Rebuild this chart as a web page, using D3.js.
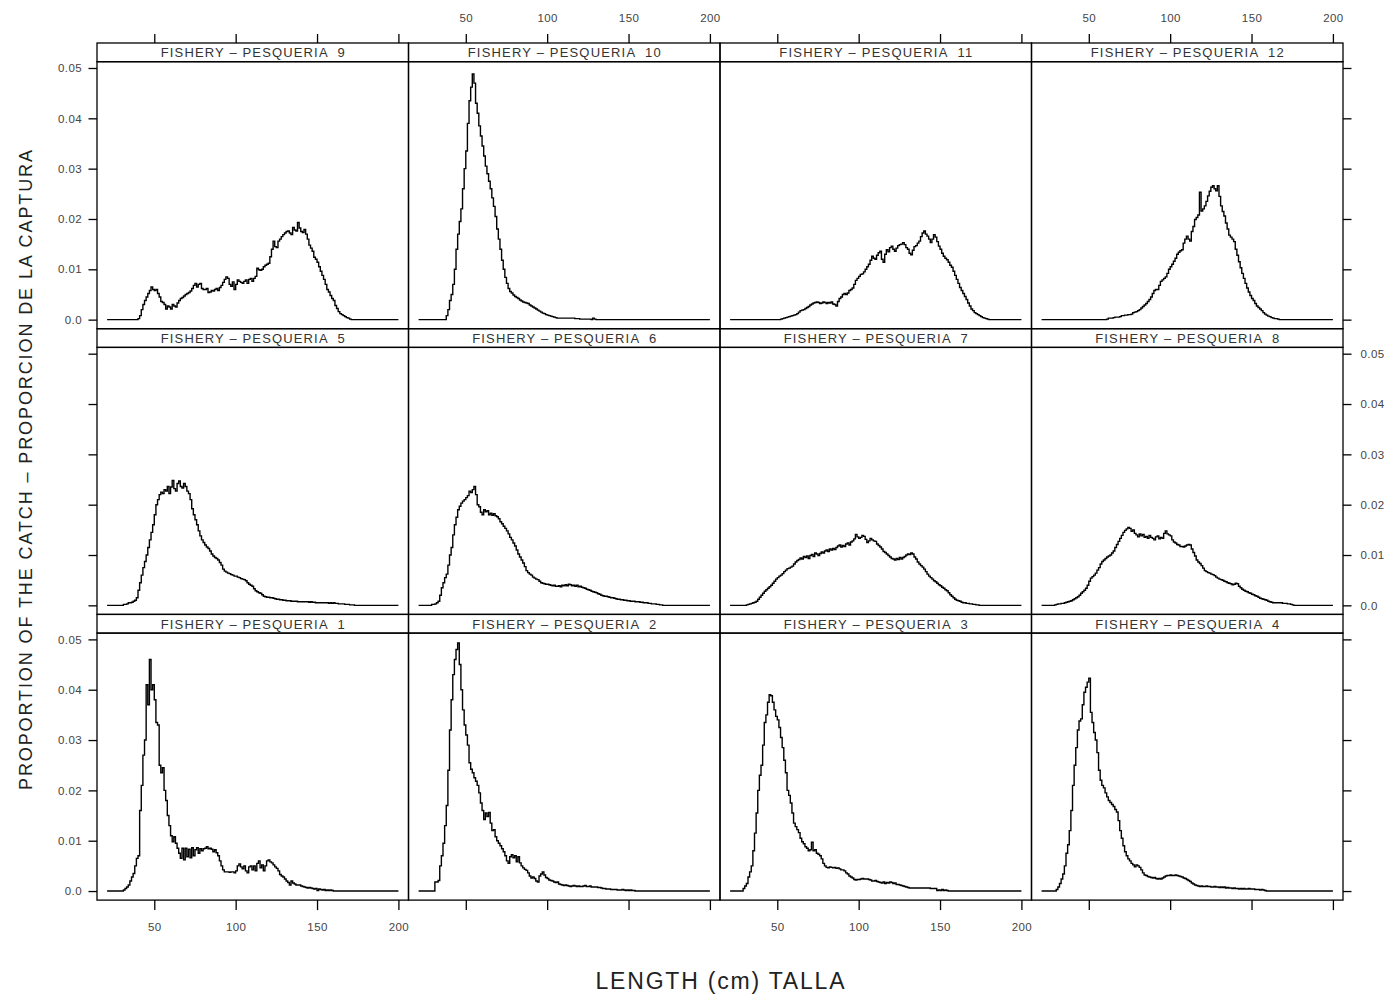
<!DOCTYPE html>
<html>
<head>
<meta charset="utf-8">
<script src="https://cdn.jsdelivr.net/npm/d3@7"></script>
<style>
  body { margin: 0; background: #fff; }
  text { font-family: "Liberation Sans", Arial, sans-serif; }
</style>
</head>
<body>
<svg id="chart" width="1389" height="996"></svg>
<script>
// length classes (cm), one value per 1 cm bin
const lengths = d3.range(21, 201)

// proportion of the catch, in percent (0.46 = 0.0046), lengths 21..200
const fishery1 = [
  0,0,0,0,0,0,0,0,0,0,
  0.02,0.05,0.08,0.12,0.2,0.28,0.35,0.5,0.65,0.7,
  1.6,2.1,2.7,3.0,4.1,3.7,4.6,4.0,4.1,3.8,
  3.35,3.3,2.5,2.35,2.45,2.0,1.8,1.5,1.3,1.1,
  0.98,1.08,0.95,0.85,0.75,0.65,0.85,0.62,0.85,0.68,
  0.83,0.66,0.86,0.7,0.82,0.86,0.75,0.84,0.8,0.84,
  0.85,0.88,0.84,0.85,0.83,0.78,0.82,0.76,0.7,0.6,
  0.5,0.42,0.38,0.38,0.38,0.37,0.38,0.38,0.36,0.4,
  0.5,0.54,0.48,0.44,0.5,0.4,0.36,0.48,0.5,0.42,
  0.5,0.4,0.55,0.6,0.46,0.52,0.4,0.5,0.6,0.62,
  0.58,0.56,0.52,0.48,0.45,0.4,0.33,0.3,0.28,0.24,
  0.2,0.17,0.12,0.2,0.16,0.14,0.12,0.12,0.12,0.1,
  0.09,0.08,0.07,0.06,0.07,0.06,0.05,0.04,0.05,0.01,
  0.04,0.03,0.02,0.03,0.01,0.02,0.01,0.02,0.01,0,
  0,0,0,0,0,0,0,0,0,0,
  0,0,0,0,0,0,0,0,0,0,
  0,0,0,0,0,0,0,0,0,0,
  0,0,0,0,0,0,0,0,0,0
]
const fishery2 = [
  0,0,0,0,0,0,0,0,0,0,
  0.18,0.18,0.21,0.5,0.7,0.95,1.3,1.7,2.4,3.2,
  3.8,4.3,4.6,4.8,4.93,4.5,4.0,3.6,3.3,3.1,
  2.9,2.55,2.42,2.35,2.25,2.18,2.1,1.95,1.75,1.6,
  1.42,1.55,1.48,1.56,1.35,1.2,1.22,1.08,1.0,0.95,
  0.9,0.84,0.78,0.7,0.6,0.55,0.68,0.72,0.66,0.7,
  0.58,0.68,0.56,0.5,0.46,0.43,0.41,0.36,0.3,0.26,
  0.28,0.25,0.2,0.18,0.3,0.34,0.38,0.32,0.27,0.25,
  0.22,0.21,0.2,0.18,0.17,0.18,0.14,0.13,0.12,0.11,
  0.12,0.11,0.1,0.09,0.1,0.11,0.1,0.09,0.1,0.09,
  0.09,0.1,0.11,0.09,0.09,0.1,0.08,0.08,0.08,0.08,
  0.07,0.07,0.06,0.05,0.05,0.04,0.04,0.04,0.03,0.03,
  0.03,0.03,0.02,0.02,0.02,0.03,0.02,0.01,0.02,0.01,
  0.02,0.01,0.01,0,0,0,0,0,0,0,
  0,0,0,0,0,0,0,0,0,0,
  0,0,0,0,0,0,0,0,0,0,
  0,0,0,0,0,0,0,0,0,0,
  0,0,0,0,0,0,0,0,0,0
]
const fishery3 = [
  0,0,0,0,0,0,0,0,0.05,0.1,
  0.15,0.28,0.38,0.5,0.8,1.15,1.55,2.0,2.3,2.5,
  2.9,3.35,3.5,3.75,3.9,3.88,3.75,3.6,3.47,3.4,
  3.25,3.05,2.85,2.6,2.35,2.0,1.9,1.75,1.55,1.35,
  1.28,1.22,1.16,1.05,0.98,0.94,0.88,0.85,0.8,0.82,
  0.97,0.8,0.82,0.75,0.73,0.7,0.64,0.55,0.5,0.47,
  0.46,0.48,0.47,0.46,0.47,0.45,0.46,0.44,0.42,0.42,
  0.4,0.36,0.34,0.3,0.28,0.26,0.23,0.22,0.23,0.23,
  0.24,0.25,0.24,0.24,0.24,0.23,0.22,0.2,0.2,0.21,
  0.19,0.18,0.17,0.16,0.18,0.15,0.17,0.16,0.18,0.17,
  0.15,0.16,0.13,0.13,0.12,0.11,0.1,0.09,0.08,0.07,
  0.06,0.06,0.06,0.06,0.06,0.06,0.06,0.06,0.06,0.06,
  0.06,0.06,0.06,0.05,0.05,0.05,0.05,0.01,0.02,0.01,
  0.03,0.01,0.02,0.01,0,0,0,0,0,0,
  0,0,0,0,0,0,0,0,0,0,
  0,0,0,0,0,0,0,0,0,0,
  0,0,0,0,0,0,0,0,0,0,
  0,0,0,0,0,0,0,0,0,0
]
const fishery4 = [
  0,0,0,0,0,0,0,0,0,0.03,
  0.08,0.15,0.24,0.34,0.5,0.75,0.92,1.2,1.6,2.1,
  2.5,2.85,3.2,3.38,3.42,3.7,3.95,4.05,4.15,4.23,
  3.55,3.35,3.15,3.0,2.75,2.4,2.2,2.1,2.05,1.95,
  1.87,1.8,1.76,1.72,1.68,1.62,1.57,1.4,1.2,1.05,
  0.9,0.78,0.7,0.64,0.6,0.55,0.52,0.48,0.52,0.5,
  0.47,0.42,0.36,0.32,0.31,0.29,0.28,0.27,0.26,0.27,
  0.25,0.24,0.25,0.24,0.26,0.28,0.3,0.31,0.31,0.32,
  0.31,0.31,0.32,0.31,0.3,0.29,0.28,0.26,0.25,0.23,
  0.21,0.19,0.16,0.14,0.12,0.11,0.1,0.09,0.1,0.09,
  0.09,0.1,0.09,0.09,0.08,0.08,0.09,0.08,0.08,0.07,
  0.08,0.07,0.08,0.06,0.07,0.06,0.06,0.05,0.06,0.05,
  0.05,0.04,0.05,0.04,0.05,0.04,0.04,0.05,0.04,0.04,
  0.04,0.03,0.03,0.03,0.02,0.03,0.02,0.01,0,0,
  0,0,0,0,0,0,0,0,0,0,
  0,0,0,0,0,0,0,0,0,0,
  0,0,0,0,0,0,0,0,0,0,
  0,0,0,0,0,0,0,0,0,0
]
const fishery5 = [
  0,0,0,0,0,0,0,0,0,0,
  0.02,0.02,0.03,0.05,0.05,0.06,0.08,0.1,0.15,0.3,
  0.45,0.6,0.75,0.87,1.0,1.15,1.3,1.45,1.6,1.8,
  2.0,2.1,2.2,2.25,2.22,2.3,2.27,2.36,2.22,2.35,
  2.48,2.32,2.27,2.42,2.47,2.36,2.33,2.42,2.36,2.27,
  2.22,2.1,1.92,1.8,1.7,1.6,1.48,1.38,1.3,1.25,
  1.2,1.16,1.13,1.08,1.02,0.98,0.95,0.93,0.9,0.85,
  0.8,0.72,0.68,0.66,0.64,0.63,0.61,0.6,0.58,0.58,
  0.56,0.55,0.53,0.52,0.51,0.49,0.45,0.42,0.4,0.38,
  0.33,0.29,0.27,0.25,0.24,0.21,0.18,0.17,0.16,0.16,
  0.15,0.15,0.14,0.13,0.12,0.12,0.11,0.11,0.1,0.1,
  0.09,0.09,0.09,0.08,0.08,0.08,0.08,0.07,0.07,0.07,
  0.07,0.07,0.07,0.07,0.06,0.07,0.06,0.06,0.05,0.05,
  0.05,0.05,0.05,0.05,0.05,0.05,0.04,0.05,0.04,0.05,
  0.04,0.04,0.03,0.03,0.03,0.03,0.02,0.02,0.02,0.01,
  0.01,0.01,0,0,0,0,0,0,0,0,
  0,0,0,0,0,0,0,0,0,0,
  0,0,0,0,0,0,0,0,0,0
]
const fishery6 = [
  0,0,0,0,0,0,0,0,0.02,0.02,
  0.03,0.05,0.08,0.2,0.35,0.45,0.55,0.62,0.8,1.0,
  1.15,1.4,1.6,1.75,1.9,1.97,2.03,2.07,2.1,2.14,
  2.18,2.27,2.24,2.3,2.36,2.2,2.0,1.96,1.85,1.8,
  1.9,1.86,1.88,1.8,1.83,1.79,1.82,1.78,1.76,1.72,
  1.66,1.62,1.57,1.53,1.48,1.42,1.35,1.3,1.24,1.18,
  1.1,1.02,0.96,0.9,0.84,0.77,0.69,0.65,0.62,0.6,
  0.56,0.54,0.52,0.51,0.48,0.45,0.44,0.43,0.42,0.42,
  0.41,0.4,0.39,0.4,0.38,0.38,0.39,0.37,0.4,0.39,
  0.41,0.39,0.42,0.41,0.39,0.4,0.38,0.4,0.37,0.38,
  0.36,0.35,0.34,0.32,0.31,0.3,0.28,0.27,0.26,0.25,
  0.23,0.22,0.2,0.19,0.18,0.18,0.17,0.16,0.15,0.15,
  0.14,0.13,0.12,0.12,0.11,0.11,0.1,0.1,0.09,0.09,
  0.08,0.08,0.08,0.07,0.07,0.07,0.06,0.06,0.05,0.05,
  0.05,0.04,0.04,0.03,0.03,0.03,0.02,0.02,0.01,0.01,
  0,0,0,0,0,0,0,0,0,0,
  0,0,0,0,0,0,0,0,0,0,
  0,0,0,0,0,0,0,0,0,0
]
const fishery7 = [
  0,0,0,0,0,0,0,0,0,0,
  0.01,0.02,0.03,0.04,0.05,0.06,0.08,0.12,0.16,0.2,
  0.24,0.28,0.31,0.34,0.37,0.4,0.44,0.48,0.52,0.55,
  0.58,0.6,0.63,0.67,0.7,0.73,0.74,0.76,0.78,0.82,
  0.86,0.89,0.91,0.94,0.92,0.97,0.95,0.98,0.93,0.99,
  1.01,0.97,1.04,1.02,0.99,1.03,1.06,1.04,1.08,1.1,
  1.07,1.12,1.1,1.13,1.11,1.15,1.18,1.2,1.16,1.19,
  1.17,1.22,1.24,1.2,1.26,1.28,1.32,1.41,1.36,1.33,
  1.35,1.39,1.37,1.31,1.25,1.28,1.33,1.3,1.28,1.27,
  1.22,1.19,1.16,1.12,1.07,1.05,1.02,0.99,0.96,0.93,
  0.92,0.9,0.93,0.91,0.95,0.92,0.95,0.97,1.0,1.02,
  1.01,1.04,1.02,0.96,0.92,0.86,0.82,0.79,0.76,0.72,
  0.67,0.62,0.58,0.55,0.52,0.49,0.47,0.44,0.41,0.39,
  0.36,0.34,0.31,0.29,0.25,0.21,0.18,0.15,0.12,0.1,
  0.09,0.08,0.06,0.05,0.05,0.04,0.04,0.03,0.03,0.02,
  0.02,0.01,0.01,0,0,0,0,0,0,0,
  0,0,0,0,0,0,0,0,0,0,
  0,0,0,0,0,0,0,0,0,0
]
const fishery8 = [
  0,0,0,0,0,0,0,0,0.01,0.02,
  0.03,0.03,0.04,0.04,0.05,0.06,0.07,0.08,0.09,0.11,
  0.13,0.15,0.17,0.2,0.24,0.27,0.3,0.34,0.4,0.48,
  0.54,0.57,0.6,0.64,0.7,0.75,0.82,0.87,0.9,0.93,
  0.96,0.98,1.0,1.04,1.08,1.15,1.21,1.27,1.33,1.39,
  1.45,1.49,1.52,1.55,1.53,1.47,1.5,1.43,1.4,1.36,
  1.42,1.38,1.41,1.35,1.37,1.33,1.39,1.35,1.33,1.3,
  1.36,1.38,1.32,1.35,1.33,1.43,1.48,1.42,1.4,1.38,
  1.3,1.26,1.24,1.21,1.2,1.17,1.17,1.16,1.18,1.2,
  1.21,1.2,1.12,1.05,0.98,0.9,0.86,0.83,0.79,0.74,
  0.69,0.67,0.65,0.64,0.62,0.61,0.59,0.56,0.54,0.52,
  0.51,0.5,0.48,0.47,0.45,0.44,0.43,0.41,0.42,0.44,
  0.43,0.38,0.35,0.32,0.3,0.28,0.27,0.25,0.24,0.22,
  0.21,0.19,0.18,0.16,0.14,0.13,0.12,0.11,0.1,0.08,
  0.07,0.06,0.05,0.05,0.05,0.05,0.05,0.05,0.04,0.04,
  0.04,0.03,0.03,0.02,0.01,0,0,0,0,0,
  0,0,0,0,0,0,0,0,0,0,
  0,0,0,0,0,0,0,0,0,0
]
const fishery9 = [
  0,0,0,0,0,0,0,0,0,0,
  0,0,0,0,0,0,0,0,0,0.02,
  0.08,0.2,0.3,0.38,0.45,0.52,0.58,0.65,0.6,0.58,
  0.6,0.52,0.45,0.36,0.34,0.3,0.21,0.27,0.25,0.21,
  0.3,0.27,0.25,0.33,0.38,0.42,0.44,0.47,0.5,0.52,
  0.54,0.57,0.62,0.68,0.72,0.65,0.7,0.72,0.62,0.6,
  0.6,0.62,0.54,0.55,0.58,0.57,0.6,0.62,0.58,0.64,
  0.68,0.74,0.8,0.85,0.82,0.7,0.66,0.75,0.6,0.7,
  0.79,0.76,0.74,0.72,0.76,0.79,0.72,0.8,0.82,0.76,
  0.82,0.86,1.02,0.99,0.98,1.0,1.05,1.08,1.1,1.12,
  1.25,1.4,1.56,1.45,1.43,1.56,1.6,1.65,1.69,1.72,
  1.75,1.76,1.72,1.69,1.83,1.78,1.76,1.93,1.82,1.75,
  1.73,1.79,1.7,1.6,1.48,1.42,1.36,1.24,1.2,1.14,
  1.05,0.96,0.88,0.8,0.7,0.6,0.55,0.48,0.42,0.38,
  0.28,0.22,0.16,0.12,0.1,0.08,0.06,0.04,0.03,0.01,
  0,0,0,0,0,0,0,0,0,0,
  0,0,0,0,0,0,0,0,0,0,
  0,0,0,0,0,0,0,0,0,0
]
const fishery10 = [
  0,0,0,0,0,0,0,0,0,0,
  0,0,0,0,0,0,0,0.08,0.2,0.38,
  0.5,0.7,1.0,1.4,1.7,1.95,2.2,2.6,3.0,3.35,
  3.9,4.35,4.62,4.88,4.7,4.3,4.1,3.85,3.65,3.45,
  3.25,3.05,2.9,2.75,2.6,2.42,2.25,2.05,1.8,1.6,
  1.4,1.18,1.0,0.84,0.72,0.62,0.56,0.53,0.49,0.46,
  0.44,0.42,0.39,0.37,0.35,0.34,0.33,0.32,0.29,0.27,
  0.25,0.23,0.21,0.19,0.17,0.15,0.13,0.12,0.1,0.09,
  0.08,0.07,0.06,0.05,0.04,0.03,0.03,0.03,0.03,0.03,
  0.03,0.03,0.03,0.03,0.03,0.03,0.02,0.02,0.02,0.01,
  0.01,0.01,0.01,0.01,0.01,0.01,0,0.03,0.01,0,
  0,0,0,0,0,0,0,0,0,0,
  0,0,0,0,0,0,0,0,0,0,
  0,0,0,0,0,0,0,0,0,0,
  0,0,0,0,0,0,0,0,0,0,
  0,0,0,0,0,0,0,0,0,0,
  0,0,0,0,0,0,0,0,0,0,
  0,0,0,0,0,0,0,0,0,0
]
const fishery11 = [
  0,0,0,0,0,0,0,0,0,0,
  0,0,0,0,0,0,0,0,0,0,
  0,0,0,0,0,0,0,0,0,0,
  0,0.01,0.02,0.03,0.04,0.05,0.06,0.07,0.08,0.09,
  0.1,0.12,0.15,0.18,0.19,0.2,0.22,0.24,0.26,0.29,
  0.31,0.33,0.34,0.35,0.34,0.32,0.33,0.35,0.34,0.32,
  0.34,0.33,0.35,0.31,0.3,0.27,0.36,0.42,0.45,0.5,
  0.52,0.5,0.53,0.58,0.6,0.63,0.7,0.78,0.82,0.86,
  0.9,0.91,0.95,1.0,1.05,1.1,1.18,1.26,1.22,1.2,
  1.28,1.33,1.36,1.2,1.14,1.3,1.39,1.35,1.43,1.46,
  1.4,1.36,1.42,1.47,1.49,1.5,1.53,1.49,1.43,1.4,
  1.32,1.29,1.38,1.45,1.47,1.52,1.56,1.65,1.72,1.76,
  1.7,1.66,1.6,1.53,1.6,1.69,1.64,1.55,1.46,1.4,
  1.32,1.26,1.22,1.19,1.14,1.08,1.04,0.96,0.88,0.8,
  0.72,0.64,0.58,0.52,0.46,0.4,0.33,0.27,0.21,0.18,
  0.14,0.12,0.1,0.08,0.06,0.04,0.03,0.02,0.01,0,
  0,0,0,0,0,0,0,0,0,0,
  0,0,0,0,0,0,0,0,0,0
]
const fishery12 = [
  0,0,0,0,0,0,0,0,0,0,
  0,0,0,0,0,0,0,0,0,0,
  0,0,0,0,0,0,0,0,0,0,
  0,0,0,0,0,0,0,0,0,0,
  0.01,0.03,0.03,0.03,0.04,0.05,0.05,0.05,0.06,0.08,
  0.08,0.09,0.09,0.1,0.1,0.11,0.14,0.15,0.16,0.18,
  0.2,0.23,0.26,0.29,0.32,0.36,0.4,0.45,0.52,0.58,
  0.6,0.6,0.68,0.76,0.79,0.82,0.85,0.92,1.0,1.05,
  1.1,1.16,1.22,1.3,1.34,1.37,1.39,1.52,1.6,1.66,
  1.6,1.56,1.75,1.85,1.99,2.03,2.08,2.53,2.16,2.2,
  2.26,2.35,2.46,2.55,2.63,2.66,2.6,2.56,2.66,2.45,
  2.26,2.15,2.06,1.92,1.8,1.68,1.64,1.6,1.55,1.4,
  1.28,1.15,1.03,0.92,0.82,0.72,0.63,0.55,0.48,0.42,
  0.38,0.32,0.27,0.24,0.21,0.18,0.14,0.11,0.09,0.07,
  0.06,0.04,0.03,0.02,0.02,0.01,0,0,0,0,
  0,0,0,0,0,0,0,0,0,0,
  0,0,0,0,0,0,0,0,0,0,
  0,0,0,0,0,0,0,0,0,0
]

const fisheries = [fishery1, fishery2, fishery3, fishery4, fishery5, fishery6,
  fishery7, fishery8, fishery9, fishery10, fishery11, fishery12]

// panel numbers, top row first (lattice fills from the bottom)
const panelRows = [[9, 10, 11, 12], [5, 6, 7, 8], [1, 2, 3, 4]]
const xTicks = [50, 100, 150, 200]
const yTicks = [0, 1, 2, 3, 4, 5]
const yTickLabels = ['0.0', '0.01', '0.02', '0.03', '0.04', '0.05']

const LEFT = 97
const TOP = 43
const COL_W = 311.5
const STRIP_H = 18.7
const PLOT_H = 267
const ROW_H = STRIP_H + PLOT_H

const svg = d3.select('#chart')

const x = d3.scaleLinear().domain([14.8, 206.2]).range([0, COL_W])
const y = d3.scaleLinear().domain([-0.18, 5.125]).range([PLOT_H, 0])

const line = d3.line()
  .x((d, i) => x(lengths[i]))
  .y(d => y(d))
  .curve(d3.curveStepAfter)

function styleAxis(sel) {
  sel.select('.domain').remove()
  sel.selectAll('.tick line').attr('stroke', '#000').attr('stroke-width', 1.3)
  sel.selectAll('.tick text')
    .attr('fill', '#444')
    .style('font-size', '11.5px')
    .style('font-family', '"Liberation Sans", Arial, sans-serif')
    .style('letter-spacing', '0.4px')
}

const noLabel = () => ''

panelRows.forEach((row, r) => {
  row.forEach((num, c) => {
    const g = svg.append('g')
      .attr('transform', `translate(${LEFT + c * COL_W},${TOP + r * ROW_H})`)

    // strip
    g.append('rect')
      .attr('width', COL_W).attr('height', STRIP_H)
      .attr('fill', 'none').attr('stroke', '#000').attr('stroke-width', 1.3)
    g.append('text')
      .attr('x', COL_W / 2).attr('y', STRIP_H / 2 + 5)
      .attr('text-anchor', 'middle')
      .attr('fill', '#333')
      .attr('textLength', num < 10 ? 184 : 193)
      .attr('lengthAdjust', 'spacing')
      .style('font-size', '13px')
      .style('white-space', 'pre')
      .text('FISHERY \u2013 PESQUERIA  ' + num)

    const p = g.append('g').attr('transform', `translate(0,${STRIP_H})`)
    p.append('path')
      .datum(fisheries[num - 1])
      .attr('d', line)
      .attr('fill', 'none')
      .attr('stroke', '#000')
      .attr('stroke-width', 1.4)
    p.append('rect')
      .attr('width', COL_W).attr('height', PLOT_H)
      .attr('fill', 'none').attr('stroke', '#000').attr('stroke-width', 1.3)

    if (r === 0) {
      g.append('g')
        .call(d3.axisTop(x).tickValues(xTicks).tickSize(9).tickPadding(12)
          .tickFormat(c % 2 === 1 ? d3.format('d') : noLabel))
        .call(styleAxis)
    }
    if (r === panelRows.length - 1) {
      p.append('g')
        .attr('transform', `translate(0,${PLOT_H})`)
        .call(d3.axisBottom(x).tickValues(xTicks).tickSize(10).tickPadding(13)
          .tickFormat(c % 2 === 0 ? d3.format('d') : noLabel))
        .call(styleAxis)
    }
    if (c === 0) {
      p.append('g')
        .call(d3.axisLeft(y).tickValues(yTicks).tickSize(8.5).tickPadding(6.5)
          .tickFormat(r % 2 === 0 ? (d, i) => yTickLabels[i] : noLabel))
        .call(styleAxis)
    }
    if (c === row.length - 1) {
      p.append('g')
        .attr('transform', `translate(${COL_W},0)`)
        .call(d3.axisRight(y).tickValues(yTicks).tickSize(8.5).tickPadding(9)
          .tickFormat(r % 2 === 1 ? (d, i) => yTickLabels[i] : noLabel))
        .call(styleAxis)
    }
  })
})

// axis titles
svg.append('text')
  .attr('x', 720).attr('y', 989)
  .attr('text-anchor', 'middle')
  .attr('fill', '#222')
  .attr('textLength', 249)
  .attr('lengthAdjust', 'spacing')
  .style('font-size', '23px')
  .text('LENGTH (cm) TALLA')

svg.append('text')
  .attr('transform', 'translate(32,470) rotate(-90)')
  .attr('text-anchor', 'middle')
  .attr('fill', '#222')
  .attr('textLength', 640)
  .attr('lengthAdjust', 'spacing')
  .style('font-size', '18px')
  .text('PROPORTION OF THE CATCH \u2013 PROPORCION DE LA CAPTURA')
</script>
</body>
</html>
